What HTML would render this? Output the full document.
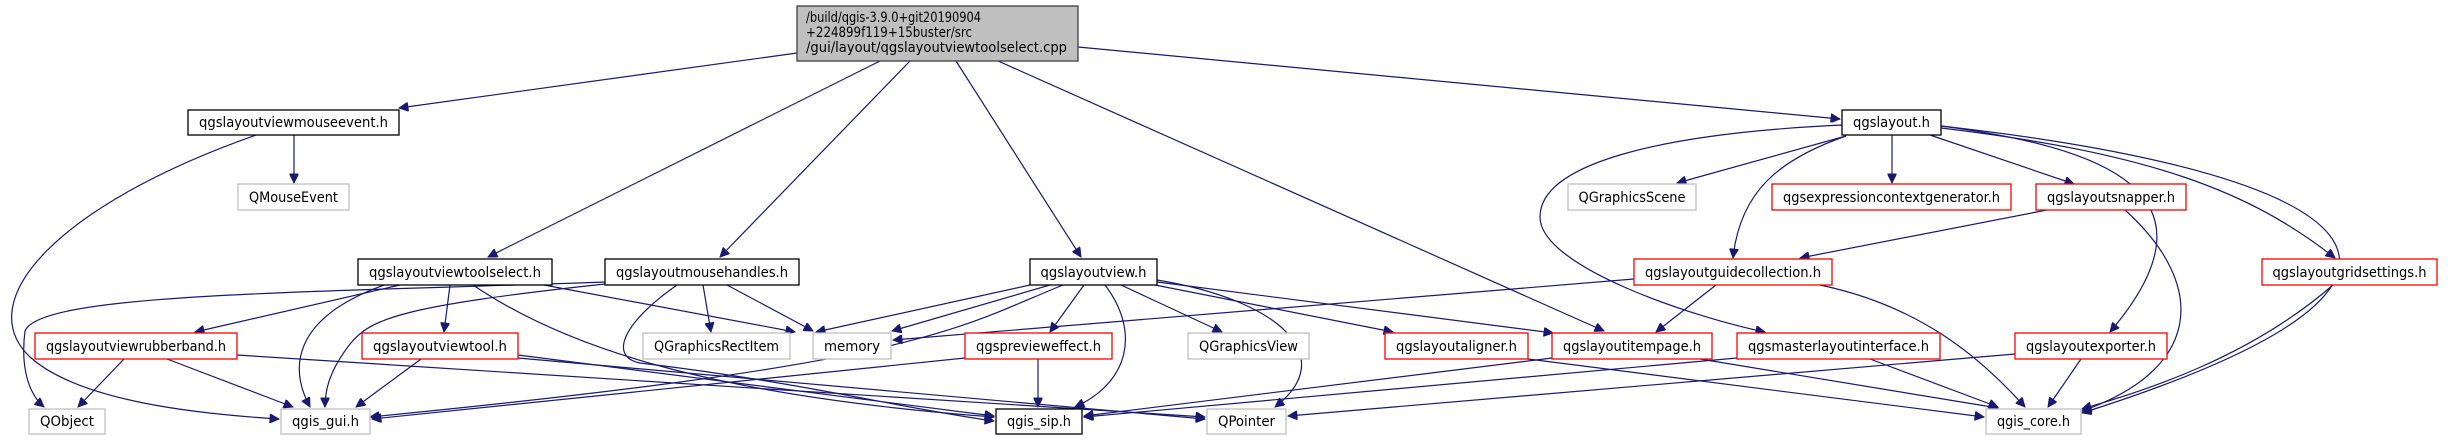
<!DOCTYPE html>
<html><head><meta charset="utf-8"><style>
html,body{margin:0;padding:0;background:#fff;}
svg{display:block;}
text{font-family:"DejaVu Sans Condensed","DejaVu Sans","Liberation Sans",sans-serif;font-stretch:condensed;font-size:14px;fill:#000;}
.e{fill:none;stroke:#191970;stroke-width:1.2;}
.b{fill:#fff;stroke:#000;stroke-width:1.3;}
.r{fill:#fff;stroke:#ff0000;stroke-width:1.3;}
.g{fill:#fff;stroke:#bfbfbf;stroke-width:1.3;}
</style></head><body>
<svg width="2457" height="440" viewBox="0 0 2457 440" xmlns="http://www.w3.org/2000/svg">
<defs><marker id="a" viewBox="0 0 10 10" refX="10" refY="5" markerWidth="11" markerHeight="9" markerUnits="userSpaceOnUse" orient="auto"><path d="M0,0 L10,5 L0,10 z" fill="#191970" stroke="#191970"/></marker></defs>
<g marker-end="url(#a)">
<path class="e" d="M797,53 L399,108"/>
<path class="e" d="M880,61 L488,257"/>
<path class="e" d="M910,61 L720,257"/>
<path class="e" d="M956,61 L1081,257"/>
<path class="e" d="M998,61 L1604,331"/>
<path class="e" d="M1078,47 L1840,119"/>
<path class="e" d="M294,135 L294,183"/>
<path class="e" d="M256,135 C60,204 -30,300 30,357 C80,402 200,414 279,419"/>
<path class="e" d="M400,285 L195,332"/>
<path class="e" d="M384,285 C290,319 290,370 310,407"/>
<path class="e" d="M450,285 L444,332"/>
<path class="e" d="M473,285 C560,344 700,395 994,417"/>
<path class="e" d="M544,285 L795,332"/>
<path class="e" d="M605,282 C300,293 40,293 25,331 C20,370 30,395 44,407"/>
<path class="e" d="M605,284 C400,306 370,319 350,344 C330,370 325,389 325,407"/>
<path class="e" d="M677,285 C620,325 610,357 640,363 C800,382 900,408 994,421"/>
<path class="e" d="M703,285 L711,332"/>
<path class="e" d="M727,285 L813,331"/>
<path class="e" d="M124,359 L78,407"/>
<path class="e" d="M167,359 L293,407"/>
<path class="e" d="M237,355 L1205,417"/>
<path class="e" d="M421,359 L356,407"/>
<path class="e" d="M518,355 L994,416"/>
<path class="e" d="M518,358 L1205,419"/>
<path class="e" d="M1030,285 L816,332"/>
<path class="e" d="M1050,285 L892,331"/>
<path class="e" d="M1063,285 C950,331 920,363 370,417"/>
<path class="e" d="M1084,285 L1050,332"/>
<path class="e" d="M1105,285 C1140,331 1130,382 1075,407"/>
<path class="e" d="M1121,285 L1222,332"/>
<path class="e" d="M1155,285 L1393,332"/>
<path class="e" d="M1157,282 L1553,333"/>
<path class="e" d="M1157,280 C1280,300 1340,357 1275,407"/>
<path class="e" d="M1038,359 L1038,407"/>
<path class="e" d="M965,358 L372,419"/>
<path class="e" d="M1528,359 L1984,417"/>
<path class="e" d="M1552,358 L1084,416"/>
<path class="e" d="M1700,359 L1998,408"/>
<path class="e" d="M1737,358 L1084,417"/>
<path class="e" d="M1870,359 L1998,407"/>
<path class="e" d="M2081,359 L2048,407"/>
<path class="e" d="M2015,354 L1288,416"/>
<path class="e" d="M1634,279 L893,340"/>
<path class="e" d="M1716,285 L1656,332"/>
<path class="e" d="M1820,285 C1920,306 1980,357 2025,407"/>
<path class="e" d="M2047,210 L1800,258"/>
<path class="e" d="M2125,210 C2210,287 2200,370 2082,411"/>
<path class="e" d="M2333,285 C2250,357 2150,389 2082,409"/>
<path class="e" d="M1842,125 C1650,134 1540,166 1540,217 C1540,268 1700,319 1765,332"/>
<path class="e" d="M1846,136 L1677,183"/>
<path class="e" d="M1846,136 C1780,159 1740,191 1733,258"/>
<path class="e" d="M1892,135 L1892,183"/>
<path class="e" d="M1930,135 L2074,184"/>
<path class="e" d="M1941,126 C2100,147 2230,191 2110,332"/>
<path class="e" d="M1941,128 C2150,153 2250,191 2335,258"/>
<path class="e" d="M1941,126 C2350,172 2520,274 2082,413"/>
</g>
<rect x="797" y="6" width="281" height="55" fill="#bfbfbf" stroke="#404040" stroke-width="1.3"/>
<text x="806" y="22" textLength="175" lengthAdjust="spacingAndGlyphs">/build/qgis-3.9.0+git20190904</text>
<text x="806" y="37" textLength="166" lengthAdjust="spacingAndGlyphs">+224899f119+15buster/src</text>
<text x="806" y="52" textLength="261" lengthAdjust="spacingAndGlyphs">/gui/layout/qgslayoutviewtoolselect.cpp</text>

<rect class="b" x="188" y="110" width="211" height="25"/><text x="293.5" y="127" text-anchor="middle" textLength="189" lengthAdjust="spacingAndGlyphs">qgslayoutviewmouseevent.h</text>
<rect class="g" x="238" y="184" width="111" height="26"/><text x="293.5" y="202" text-anchor="middle" textLength="89" lengthAdjust="spacingAndGlyphs">QMouseEvent</text>
<rect class="b" x="358" y="259" width="194" height="26"/><text x="455" y="277" text-anchor="middle" textLength="172" lengthAdjust="spacingAndGlyphs">qgslayoutviewtoolselect.h</text>
<rect class="b" x="605" y="259" width="194" height="26"/><text x="702" y="277" text-anchor="middle" textLength="172" lengthAdjust="spacingAndGlyphs">qgslayoutmousehandles.h</text>
<rect class="b" x="1030" y="259" width="127" height="26"/><text x="1093.5" y="277" text-anchor="middle" textLength="106" lengthAdjust="spacingAndGlyphs">qgslayoutview.h</text>
<rect class="b" x="1842" y="110" width="99" height="25"/><text x="1891.5" y="127" text-anchor="middle" textLength="77" lengthAdjust="spacingAndGlyphs">qgslayout.h</text>
<rect class="g" x="1568" y="184" width="128" height="26"/><text x="1632" y="202" text-anchor="middle" textLength="107" lengthAdjust="spacingAndGlyphs">QGraphicsScene</text>
<rect class="r" x="1772" y="184" width="239" height="26"/><text x="1891.5" y="202" text-anchor="middle" textLength="217" lengthAdjust="spacingAndGlyphs">qgsexpressioncontextgenerator.h</text>
<rect class="r" x="2036" y="184" width="150" height="26"/><text x="2111" y="202" text-anchor="middle" textLength="128" lengthAdjust="spacingAndGlyphs">qgslayoutsnapper.h</text>
<rect class="r" x="1634" y="259" width="198" height="26"/><text x="1733" y="277" text-anchor="middle" textLength="176" lengthAdjust="spacingAndGlyphs">qgslayoutguidecollection.h</text>
<rect class="r" x="2262" y="259" width="175" height="26"/><text x="2349.5" y="277" text-anchor="middle" textLength="154" lengthAdjust="spacingAndGlyphs">qgslayoutgridsettings.h</text>
<rect class="r" x="35" y="333" width="202" height="26"/><text x="136" y="351" text-anchor="middle" textLength="180" lengthAdjust="spacingAndGlyphs">qgslayoutviewrubberband.h</text>
<rect class="r" x="362" y="333" width="156" height="26"/><text x="440" y="351" text-anchor="middle" textLength="134" lengthAdjust="spacingAndGlyphs">qgslayoutviewtool.h</text>
<rect class="g" x="643" y="333" width="147" height="26"/><text x="716.5" y="351" text-anchor="middle" textLength="125" lengthAdjust="spacingAndGlyphs">QGraphicsRectItem</text>
<rect class="g" x="813" y="333" width="78" height="26"/><text x="852" y="351" text-anchor="middle" textLength="56" lengthAdjust="spacingAndGlyphs">memory</text>
<rect class="r" x="965" y="333" width="147" height="26"/><text x="1038.5" y="351" text-anchor="middle" textLength="125" lengthAdjust="spacingAndGlyphs">qgspreviewеffect.h</text>
<rect class="g" x="1188" y="333" width="121" height="26"/><text x="1248.5" y="351" text-anchor="middle" textLength="99" lengthAdjust="spacingAndGlyphs">QGraphicsView</text>
<rect class="r" x="1385" y="333" width="143" height="26"/><text x="1456.5" y="351" text-anchor="middle" textLength="121" lengthAdjust="spacingAndGlyphs">qgslayoutaligner.h</text>
<rect class="r" x="1552" y="333" width="160" height="26"/><text x="1632" y="351" text-anchor="middle" textLength="138" lengthAdjust="spacingAndGlyphs">qgslayoutitempage.h</text>
<rect class="r" x="1737" y="333" width="203" height="26"/><text x="1838.5" y="351" text-anchor="middle" textLength="181" lengthAdjust="spacingAndGlyphs">qgsmasterlayoutinterface.h</text>
<rect class="r" x="2015" y="333" width="152" height="26"/><text x="2091" y="351" text-anchor="middle" textLength="130" lengthAdjust="spacingAndGlyphs">qgslayoutexporter.h</text>
<rect class="g" x="29" y="409" width="76" height="25"/><text x="67" y="426" text-anchor="middle" textLength="54" lengthAdjust="spacingAndGlyphs">QObject</text>
<rect class="g" x="281" y="409" width="89" height="25"/><text x="325.5" y="426" text-anchor="middle" textLength="67" lengthAdjust="spacingAndGlyphs">qgis_gui.h</text>
<rect class="b" x="996" y="409" width="86" height="25"/><text x="1039" y="426" text-anchor="middle" textLength="64" lengthAdjust="spacingAndGlyphs">qgis_sip.h</text>
<rect class="g" x="1207" y="409" width="79" height="25"/><text x="1246.5" y="426" text-anchor="middle" textLength="57" lengthAdjust="spacingAndGlyphs">QPointer</text>
<rect class="g" x="1986" y="409" width="95" height="25"/><text x="2033.5" y="426" text-anchor="middle" textLength="73" lengthAdjust="spacingAndGlyphs">qgis_core.h</text>
</svg>
</body></html>
